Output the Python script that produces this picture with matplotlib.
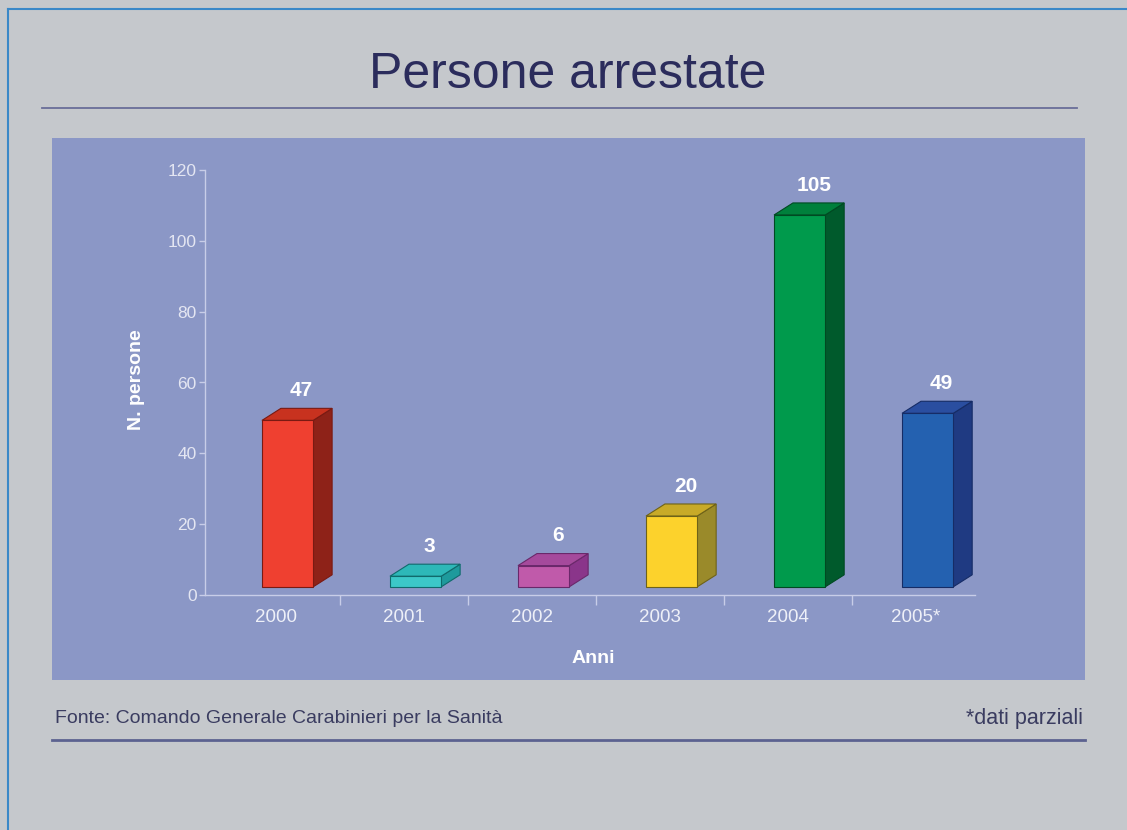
import matplotlib
matplotlib.use("Agg")
import matplotlib.pyplot as plt
from matplotlib.patches import Polygon, Rectangle
from matplotlib.lines import Line2D
import numpy as np

plt.rcParams['font.family'] = ['Liberation Sans', 'DejaVu Sans']

# ---- data ----
years = ["2000", "2001", "2002", "2003", "2004", "2005*"]
values = [47, 3, 6, 20, 105, 49]
front_colors = ["#ef4030", "#3cc8c8", "#c05aaa", "#fcd22c", "#009a4c", "#2461b0"]
side_colors = ["#8e2218", "#1e9a9c", "#8a358a", "#9a8a2a", "#005a2c", "#1f3a82"]
top_colors = ["#c8321f", "#2db8b8", "#a54a9c", "#c8aa28", "#00803c", "#2a4ea0"]
edge_colors = ["#7a1a12", "#106a6c", "#6a286a", "#6e6218", "#004a22", "#162c66"]
yticks = [0, 20, 40, 60, 80, 100, 120]

title = "Persone arrestate"
ylabel = "N. persone"
xlabel = "Anni"
source = "Fonte: Comando Generale Carabinieri per la Sanità"
note = "*dati parziali"

W, H = 1127, 830
fig = plt.figure(figsize=(W / 100, H / 100), dpi=100)
fig.patch.set_facecolor("#c5c8cc")

def fx(px):
    return px / W

def fy(py):
    return 1 - py / H

# outer blue border (top and left)
fig.add_artist(Line2D([fx(8), 1.0], [fy(9), fy(9)], color="#3a88c8", lw=1.5))
fig.add_artist(Line2D([fx(8), fx(8)], [fy(9), 0.0], color="#3a88c8", lw=1.5))

# title and rule
fig.text(fx(568), fy(75), title, ha="center", va="center", fontsize=36,
         color="#2b2c5c")
fig.add_artist(Line2D([fx(42), fx(1077)], [fy(108), fy(108)], color="#6a6e98", lw=1.3))

# panel
fig.add_artist(Rectangle((fx(52), fy(680)), fx(1085) - fx(52), fy(138) - fy(680),
                         transform=fig.transFigure, facecolor="#8b97c6",
                         edgecolor="none", zorder=0))

# axes
ax = fig.add_axes([fx(205), fy(595), fx(975) - fx(205), fy(170) - fy(595)])
ax.set_facecolor("none")
ax.set_xlim(-0.555, 5.46)
ax.set_ylim(0, 120)

x = np.arange(len(years))
base = 2.3
off = 0.09
bw = 0.40
dx = 0.148
dy = 3.4

bars = ax.bar(x + off, values, width=bw, bottom=base, color=front_colors,
              edgecolor=edge_colors, linewidth=0.8, zorder=3)
for i, v in enumerate(values):
    left = x[i] + off - bw / 2
    right = x[i] + off + bw / 2
    top = base + v
    side = Polygon([(right, base), (right + dx, base + dy), (right + dx, top + dy), (right, top)],
                   closed=True, facecolor=side_colors[i], edgecolor=edge_colors[i],
                   linewidth=0.8, zorder=2)
    topf = Polygon([(left, top), (left + dx, top + dy), (right + dx, top + dy), (right, top)],
                   closed=True, facecolor=top_colors[i], edgecolor=edge_colors[i],
                   linewidth=0.8, zorder=2)
    ax.add_patch(side)
    ax.add_patch(topf)
    ax.text(x[i] + off + 0.11, top + dy + 5, str(v), ha="center", va="center",
            fontsize=15, fontweight="bold", color="white", zorder=4)

# spines & ticks
for s in ["top", "right"]:
    ax.spines[s].set_visible(False)
for s in ["left", "bottom"]:
    ax.spines[s].set_color("#c8cde8")
    ax.spines[s].set_linewidth(1.0)

ax.set_yticks(yticks)
ax.set_yticklabels([str(t) for t in yticks])
ax.tick_params(axis="y", colors="#c8cde8", labelcolor="#e4e6f2", length=4,
               width=1, labelsize=12.5, pad=2)
ax.set_xticks(x)
ax.set_xticklabels(years)
ax.tick_params(axis="x", length=0, labelcolor="#eef0f8", labelsize=13.5, pad=10)
ax.set_xticks(x[:-1] + 0.5, minor=True)
ax.tick_params(axis="x", which="minor", length=7, width=1, color="#c8cde8",
               direction="out")

ax.set_ylabel(ylabel, fontsize=14, fontweight="bold", color="white")
ax.yaxis.set_label_coords(-0.078, 0.506)
ax.set_xlabel(xlabel, fontsize=14, fontweight="bold", color="white")
ax.xaxis.set_label_coords(0.504, -0.13)

# footer
fig.text(fx(55), fy(718), source, ha="left", va="center", fontsize=14, color="#3a3c60")
fig.text(fx(1083), fy(718), note, ha="right", va="center", fontsize=15.5, color="#3a3c60")
fig.add_artist(Line2D([fx(52), fx(1085)], [fy(740), fy(740)], color="#5c6290", lw=2))

fig.savefig("out.png", dpi=100, facecolor=fig.get_facecolor())
